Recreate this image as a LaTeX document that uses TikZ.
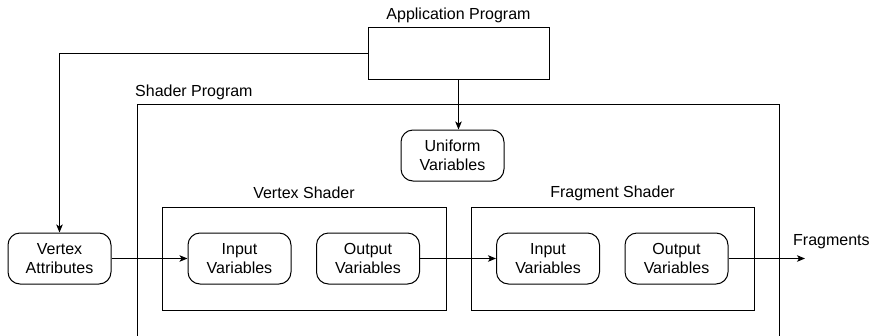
\documentclass[tikz,border=0pt]{standalone}
\usepackage{fontspec}
\setmainfont{Liberation Sans}
\usetikzlibrary{arrows.meta}
\tikzset{
  lbl/.style={inner sep=0pt, font=\fontsize{16}{19}\selectfont},
  rbox/.style={draw, line width=1pt, rounded corners=12pt, minimum width=103pt, minimum height=51pt, inner sep=0pt, align=center, font=\fontsize{16}{19}\selectfont},
  sbox/.style={draw, line width=1pt, inner sep=0pt},
  conn/.style={line width=1pt, -{Stealth[length=8pt,width=6.5pt,inset=2pt]}},
}
\begin{document}
\begin{tikzpicture}[x=1pt,y=-1pt]
\useasboundingbox (0,0) rectangle (872,335);
% application program
\node[sbox, minimum width=181pt, minimum height=52pt] (app) at (458.5,53) {};
\node[lbl] (applbl) at (458.5,15) {Application Program};
% shader program (open at the bottom)
\coordinate (spbl) at (137,340);
\coordinate (sptl) at (137,104);
\coordinate (sptr) at (779,104);
\coordinate (spbr) at (779,340);
\draw[line width=1pt] (spbl) -- (sptl) -- (sptr) -- (spbr);
\node[lbl, anchor=west] (splbl) at (135,92) {Shader Program};
% uniform
\node[rbox] (uni) at (452.5,155.5) {Uniform\\Variables};
% vertex shader
\node[sbox, minimum width=284pt, minimum height=103pt] (vs) at (304,258.5) {};
\node[lbl] (vslbl) at (304,193) {Vertex Shader};
% fragment shader
\node[sbox, minimum width=283pt, minimum height=103pt] (fs) at (612.5,258.5) {};
\node[lbl] (fslbl) at (612.5,193) {Fragment Shader};
% boxes
\node[rbox] (va) at (59.5,258.5) {Vertex\\Attributes};
\node[rbox] (vin) at (239.5,258.5) {Input\\Variables};
\node[rbox] (vout) at (368,258.5) {Output\\Variables};
\node[rbox] (fin) at (548,258.5) {Input\\Variables};
\node[rbox] (fout) at (676.5,258.5) {Output\\Variables};
\coordinate (fragend) at (805,258.5);
\node[lbl, anchor=west] (fraglbl) at (793,242) {Fragments};
% connectors
\draw[conn] (app.south) -- (app.south |- uni.north);
\draw[conn] (app.west) -| (va.north);
\draw[conn] (va.east) -- (vin.west);
\draw[conn] (vout.east) -- (fin.west);
\draw[conn] (fout.east) -- (fragend);
\end{tikzpicture}
\end{document}
